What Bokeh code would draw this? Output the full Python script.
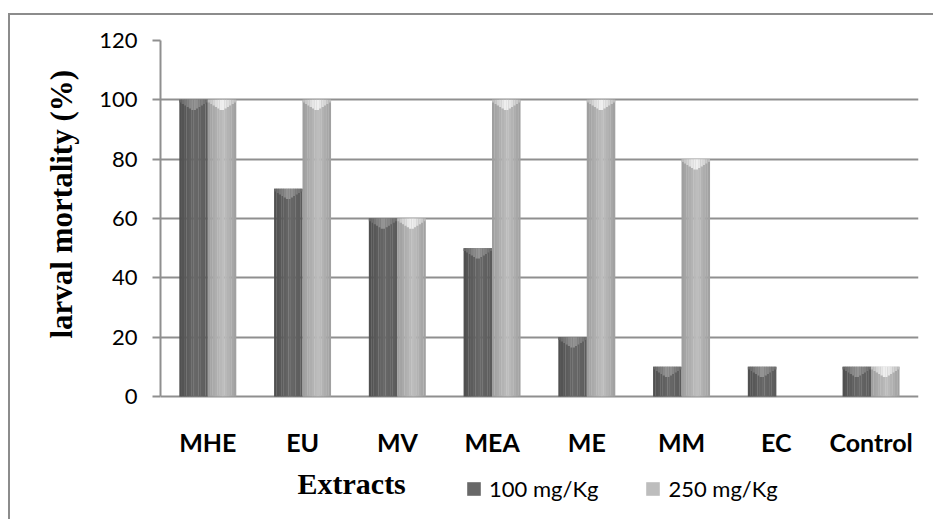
from bokeh.plotting import figure
from bokeh.models import ColumnDataSource, FactorRange, Range1d, Legend, LegendItem, FixedTicker, Title, Label
from bokeh.transform import dodge
from bokeh.embed import file_html
from bokeh.resources import INLINE

# ---- data ----
extracts = ["MHE", "EU", "MV", "MEA", "ME", "MM", "EC", "Control"]
dose_100 = [100, 70, 60, 50, 20, 10, 10, 10]
dose_250 = [100, 100, 60, 100, 100, 80, 0, 10]
series_names = ["100 mg/Kg", "250 mg/Kg"]
y_ticks = [0, 20, 40, 60, 80, 100, 120]
y_label = "larval mortality (%)"
x_label = "Extracts"

GRID = "#8f8f8f"
Y0, Y1 = -37.75, 120          # frame reaches down to the legend row
FRAME_H = 468
PX_PER_UNIT = FRAME_H / (Y1 - Y0)

p = figure(x_range=FactorRange(*extracts), y_range=Range1d(Y0, Y1),
           frame_width=758, frame_height=FRAME_H, output_backend="svg", toolbar_location=None,
           min_border_left=150, min_border_right=15, min_border_top=25, min_border_bottom=11)
p.styles = {"border-left": "2px solid #8c8c8c", "border-top": "2px solid #8c8c8c",
            "margin-top": "13px", "margin-left": "8px"}
p.outline_line_color = None
p.background_fill_color = "white"


def grey(v):
    g = max(0, min(255, int(round(v))))
    return "#%02x%02x%02x" % (g, g, g)


def shade(lo, hi, end, n):
    # cylinder-like profile across the bar: edge -> highlight -> edge
    out = []
    for k in range(n):
        t = (k + 0.5) / n
        if t < 0.55:
            v = lo + (hi - lo) * (t / 0.55)
        else:
            v = hi + (end - hi) * ((t - 0.55) / 0.45)
        out.append(v)
    return out


n = 12
styles = {
    "d100": dict(base=-0.15, body=shade(0x4e, 0x68, 0x5a, n), cap_mix=0.32),
    "d250": dict(base=0.15, body=shade(0x9c, 0xbe, 0x9e, n), cap_mix=0.80),
}
bw = 0.3
sw = bw / n
series = {"d100": dose_100, "d250": dose_250}

src = ColumnDataSource(dict(x=extracts, d100=dose_100, d250=dose_250))
legend_r = {}
for col, st in styles.items():
    vals = series[col]
    for k, v in enumerate(st["body"]):
        t = (k + 0.5) / n
        off = st["base"] - bw / 2 + sw / 2 + k * sw
        w = sw * (1.1 if k < n - 1 else 1.0)
        r = p.vbar(x=dodge("x", off, range=p.x_range), top=col, bottom=0, width=w,
                   source=src, fill_color=grey(v), line_color=None)
        if k == n // 2:
            legend_r[col] = r
        # lighter rounded top of the 3-D column (V-shaped highlight)
        closeness = max(0.0, 1 - abs(t - 0.5) * 2)
        cap_px = 2 + 9 * closeness
        cap_src = ColumnDataSource(dict(
            x=extracts, top=vals,
            bottom=[max(val - cap_px / PX_PER_UNIT, 0) for val in vals]))
        cap_col = grey(v + (255 - v) * st["cap_mix"] * (0.35 + 0.65 * closeness))
        p.vbar(x=dodge("x", off, range=p.x_range), top="top", bottom="bottom", width=w,
               source=cap_src, fill_color=cap_col, line_color=None)

# category axis pinned at value 0
p.xaxis.fixed_location = 0
p.xaxis.axis_line_color = None
p.xaxis.major_tick_line_color = None
p.xaxis.minor_tick_line_color = None
p.xaxis.major_label_standoff = 24
p.xaxis.major_label_text_font = "Lato"
p.xaxis.major_label_text_font_style = "bold"
p.xaxis.major_label_text_font_size = "25px"
p.xaxis.major_label_text_color = "black"

p.yaxis.ticker = FixedTicker(ticks=y_ticks)
p.yaxis.bounds = (0, 120)
p.yaxis.axis_line_color = GRID
p.yaxis.axis_line_width = 2
p.yaxis.major_tick_line_color = GRID
p.yaxis.major_tick_line_width = 2
p.yaxis.major_tick_out = 8
p.yaxis.major_tick_in = 0
p.yaxis.minor_tick_line_color = None
p.yaxis.major_label_standoff = 15
p.yaxis.major_label_text_font = "Lato"
p.yaxis.major_label_text_font_size = "22px"
p.yaxis.major_label_text_color = "black"

p.xgrid.grid_line_color = None
p.ygrid.grid_line_color = GRID
p.ygrid.grid_line_width = 2
p.ygrid.ticker = FixedTicker(ticks=y_ticks)

p.add_layout(Title(text=y_label, align="left", offset=170, standoff=36,
                   text_font="Liberation Serif", text_font_style="bold", text_font_size="31px",
                   text_color="black"), "left")

p.add_layout(Label(x=137, y=25, x_units="screen", y_units="screen", text=x_label,
                   text_font="Liberation Serif", text_font_style="bold", text_font_size="30px",
                   text_color="black", text_align="left", text_baseline="alphabetic"))

legend = Legend(items=[LegendItem(label=series_names[0], renderers=[legend_r["d100"]]),
                       LegendItem(label=series_names[1], renderers=[legend_r["d250"]])],
                location=(305, 6), orientation="horizontal",
                glyph_width=17, glyph_height=17, label_standoff=7, spacing=46,
                padding=0, margin=0, border_line_color=None, background_fill_alpha=0,
                label_text_font="Lato", label_text_font_size="22px", label_text_color="black")
p.add_layout(legend, "center")

open("out.html", "w").write(file_html(p, INLINE))
